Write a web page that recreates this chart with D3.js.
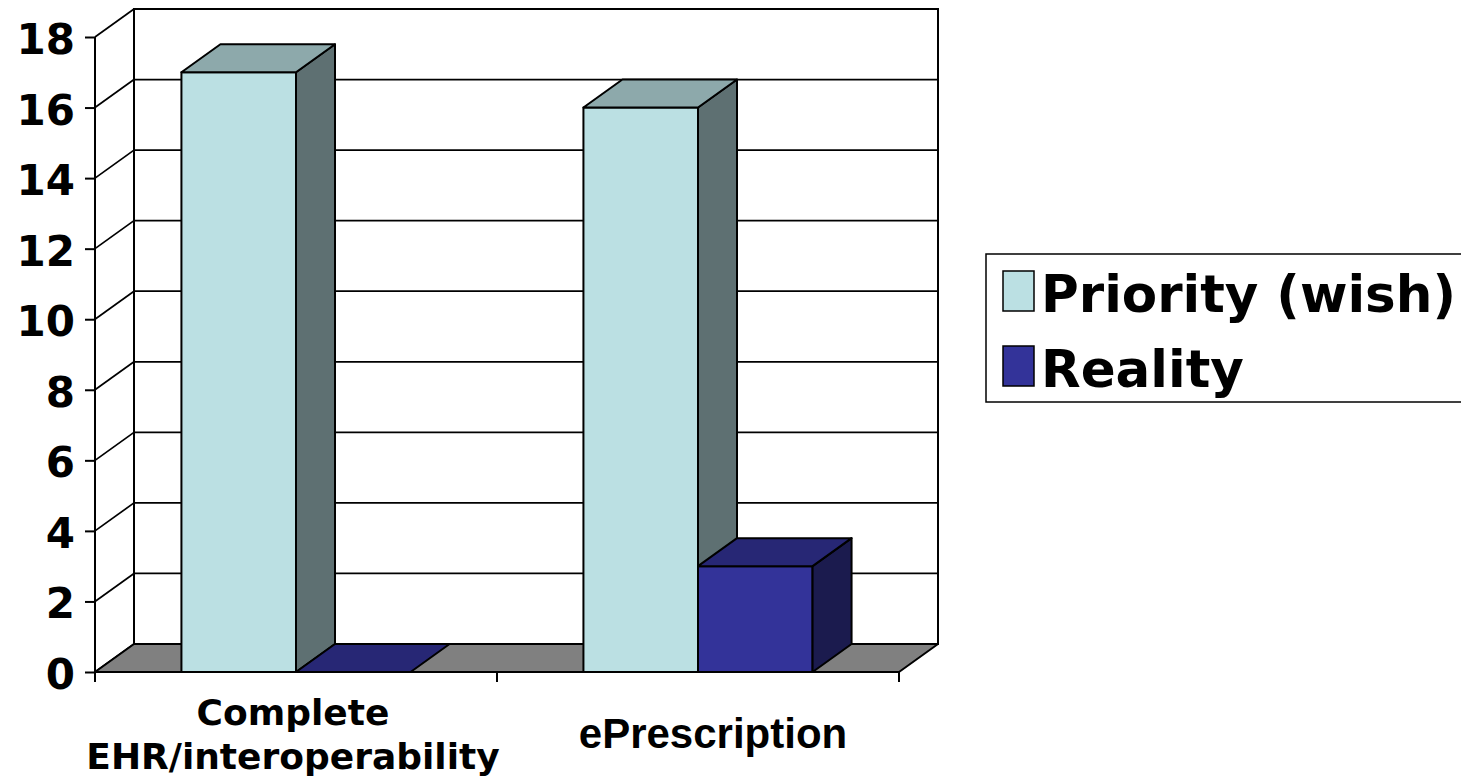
<!DOCTYPE html>
<html>
<head>
<meta charset="utf-8">
<script src="https://cdn.jsdelivr.net/npm/d3@7"></script>
<style>
  html, body { margin: 0; padding: 0; background: #fff; }
  svg { display: block; }
</style>
</head>
<body>
<svg id="chart" width="1461" height="782"></svg>
<script>
// Categories, series and values
const categories = ["Complete EHR/interoperability", "ePrescription"];
const categoryLines = [["Complete", "EHR/interoperability"], ["ePrescription"]];
const seriesNames = ["Priority (wish)", "Reality"];
const priorityValues = [17, 16];
const realityValues = [0, 3];
const yTicks = [0, 2, 4, 6, 8, 10, 12, 14, 16, 18];

// Face colours per series: front, top, side
const seriesColors = [
  { front: "#BBE0E3", top: "#8DA9AB", side: "#5E7072" },
  { front: "#333399", top: "#272775", side: "#1B1B4E" }
];
const floorColor = "#808080";

const svg = d3.select("#chart");

// Plot geometry (front plane) and 3D depth offset
const x0 = 95, x1 = 899, yBottom = 672, yTop = 37;
const DX = 39, DY = -28;

const y = d3.scaleLinear().domain([0, 18]).range([yBottom, yTop]);
const xCat = d3.scaleBand().domain(categories).range([x0, x1])
  .paddingInner(0.43).paddingOuter(0.215);
const xSeries = d3.scaleBand().domain(seriesNames).range([0, xCat.bandwidth()]);

const poly = pts => "M" + pts.map(p => p.join(",")).join("L") + "Z";

// Back wall and side wall
const walls = svg.append("g");
walls.append("path")
  .attr("d", poly([[x0 + DX, y(18) + DY], [x1 + DX, y(18) + DY], [x1 + DX, y(0) + DY], [x0 + DX, y(0) + DY]]))
  .attr("fill", "#fff").attr("stroke", "#000").attr("stroke-width", 2);

// Gridlines on back wall and side wall
yTicks.forEach(t => {
  walls.append("line")
    .attr("x1", x0 + DX).attr("x2", x1 + DX)
    .attr("y1", y(t) + DY).attr("y2", y(t) + DY)
    .attr("stroke", "#000").attr("stroke-width", 1.7);
  walls.append("line")
    .attr("x1", x0).attr("y1", y(t))
    .attr("x2", x0 + DX).attr("y2", y(t) + DY)
    .attr("stroke", "#000").attr("stroke-width", 1.7);
});

// Floor
svg.append("path")
  .attr("d", poly([[x0, y(0)], [x1, y(0)], [x1 + DX, y(0) + DY], [x0 + DX, y(0) + DY]]))
  .attr("fill", floorColor).attr("stroke", "#000").attr("stroke-width", 2)
  .attr("stroke-linejoin", "round");

// Value axis line and ticks
const axisG = svg.append("g").attr("transform", `translate(${x0},0)`);
const yAxis = d3.axisLeft(y).tickValues(yTicks).tickSize(10).tickFormat("");
axisG.call(yAxis);
axisG.select(".domain").attr("d", `M0,${y(18)}V${y(0) + 10}`)
  .attr("stroke", "#000").attr("stroke-width", 2);
axisG.selectAll(".tick line").attr("stroke", "#000").attr("stroke-width", 2);

// Value axis labels
svg.append("g").selectAll("text").data(yTicks).join("text")
  .attr("x", 75).attr("y", d => y(d) + 17)
  .attr("text-anchor", "end")
  .attr("font-family", "DejaVu Sans, Verdana, sans-serif")
  .attr("font-weight", "bold").attr("font-size", 42)
  .attr("fill", "#000")
  .text(d => d);

// Category axis line and ticks at category boundaries
const bounds = [x0, (x0 + x1) / 2, x1];
svg.append("line").attr("x1", x0).attr("x2", x1).attr("y1", y(0)).attr("y2", y(0))
  .attr("stroke", "#000").attr("stroke-width", 2);
svg.append("g").selectAll("line").data(bounds).join("line")
  .attr("x1", d => d).attr("x2", d => d)
  .attr("y1", y(0)).attr("y2", y(0) + 10)
  .attr("stroke", "#000").attr("stroke-width", 2);

// 3D columns, drawn left to right
const valuesBySeries = [priorityValues, realityValues];
const barsG = svg.append("g");
categories.forEach((cat, ci) => {
  seriesNames.forEach((s, si) => {
    const v = valuesBySeries[si][ci];
    const bx = xCat(cat) + xSeries(s);
    const bw = xSeries.bandwidth();
    const yt = y(v), yb = y(0);
    const c = seriesColors[si];
    const g = barsG.append("g")
      .attr("stroke", "#000").attr("stroke-width", 2).attr("stroke-linejoin", "round");
    if (v > 0) {
      g.append("path").attr("d", poly([[bx, yt], [bx + bw, yt], [bx + bw, yb], [bx, yb]]))
        .attr("fill", c.front);
      g.append("path").attr("d", poly([[bx + bw, yt], [bx + bw + DX, yt + DY], [bx + bw + DX, yb + DY], [bx + bw, yb]]))
        .attr("fill", c.side);
    }
    g.append("path").attr("d", poly([[bx, yt], [bx + DX, yt + DY], [bx + bw + DX, yt + DY], [bx + bw, yt]]))
      .attr("fill", c.top);
  });
});

// Category labels
const catLabelStyle = [
  { family: "DejaVu Sans, Verdana, sans-serif", size: 36, dx: -3, baseline: 725, lh: 44 },
  { family: "Liberation Sans, Arial, sans-serif", size: 42, dx: 15, baseline: 748, lh: 44 }
];
categories.forEach((cat, ci) => {
  const st = catLabelStyle[ci];
  const cx = xCat(cat) + xCat.bandwidth() / 2 + st.dx;
  const t = svg.append("text")
    .attr("text-anchor", "middle")
    .attr("font-family", st.family)
    .attr("font-weight", "bold").attr("font-size", st.size)
    .attr("fill", "#000");
  categoryLines[ci].forEach((line, li) => {
    t.append("tspan").attr("x", cx).attr("y", st.baseline + li * st.lh).text(line);
  });
});

// Legend
const legend = svg.append("g");
legend.append("rect")
  .attr("x", 986).attr("y", 254).attr("width", 500).attr("height", 148)
  .attr("fill", "#fff").attr("stroke", "#000").attr("stroke-width", 1.5);
seriesNames.forEach((s, i) => {
  const baseY = 312 + i * 75;
  legend.append("rect")
    .attr("x", 1003).attr("y", baseY - 41).attr("width", 31).attr("height", 40)
    .attr("fill", seriesColors[i].front).attr("stroke", "#000").attr("stroke-width", 1.5);
  legend.append("text")
    .attr("x", 1041).attr("y", baseY)
    .attr("font-family", "DejaVu Sans, Verdana, sans-serif")
    .attr("font-weight", "bold").attr("font-size", 51.5)
    .attr("fill", "#000")
    .text(s);
});
</script>
</body>
</html>
